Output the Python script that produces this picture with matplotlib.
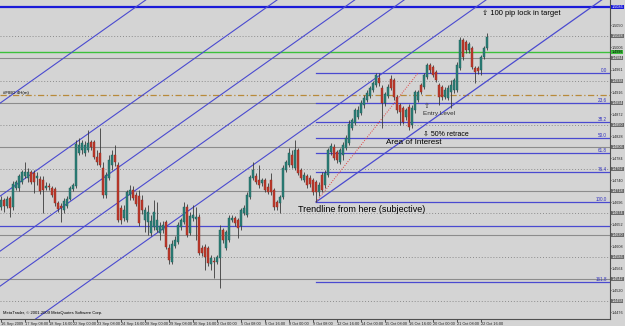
import matplotlib
matplotlib.use("Agg")
import matplotlib.pyplot as plt
import matplotlib.transforms as mtransforms
import numpy as np

plt.rcParams['font.family'] = ['Liberation Sans', 'DejaVu Sans']

# EURUSD H4, 16 Sep 2009 - 23 Oct 2009
opens = [
    1.4686, 1.4700, 1.4688, 1.4704, 1.4686, 1.4724, 1.4724, 1.4736, 1.4748, 1.4744,
    1.4756, 1.4754, 1.4744, 1.4742, 1.4740, 1.4724, 1.4728, 1.4724, 1.4722, 1.4694,
    1.4688, 1.4680, 1.4688, 1.4702, 1.4722, 1.4728, 1.4794, 1.4800, 1.4794, 1.4800,
    1.4816, 1.4816, 1.4786, 1.4794, 1.4764, 1.4710, 1.4744, 1.4770, 1.4790, 1.4770,
    1.4684, 1.4664, 1.4660, 1.4710, 1.4720, 1.4710, 1.4708, 1.4700, 1.4660, 1.4656,
    1.4634, 1.4646, 1.4640, 1.4634, 1.4640, 1.4656, 1.4604, 1.4576, 1.4608, 1.4616,
    1.4646, 1.4656, 1.4686, 1.4634, 1.4664, 1.4662, 1.4666, 1.4604, 1.4606, 1.4604,
    1.4572, 1.4578, 1.4576, 1.4584, 1.4640, 1.4604, 1.4620, 1.4660, 1.4664, 1.4660,
    1.4648, 1.4674, 1.4670, 1.4706, 1.4744, 1.4748, 1.4740, 1.4734, 1.4740, 1.4726,
    1.4740, 1.4720, 1.4696, 1.4694, 1.4706, 1.4760, 1.4770, 1.4790, 1.4764, 1.4800,
    1.4760, 1.4740, 1.4748, 1.4744, 1.4740, 1.4736, 1.4716, 1.4750, 1.4730, 1.4750,
    1.4796, 1.4806, 1.4796, 1.4776, 1.4790, 1.4804, 1.4814, 1.4844, 1.4854, 1.4866,
    1.4874, 1.4890, 1.4900, 1.4908, 1.4920, 1.4930, 1.4944, 1.4924, 1.4894, 1.4908,
    1.4942, 1.4940, 1.4906, 1.4890, 1.4884, 1.4866, 1.4886, 1.4850, 1.4880, 1.4900,
    1.4930, 1.4926, 1.4946, 1.4970, 1.4966, 1.4956, 1.4930, 1.4926, 1.4906, 1.4904,
    1.4916, 1.4920, 1.4920, 1.4964, 1.5020, 1.5016, 1.5000, 1.5004, 1.4964, 1.4964,
    1.4960, 1.4986, 1.5004,
]
highs = [
    1.4708, 1.4704, 1.4708, 1.4708, 1.4738, 1.4740, 1.4752, 1.4760, 1.4776, 1.4764,
    1.4760, 1.4760, 1.4756, 1.4748, 1.4748, 1.4736, 1.4734, 1.4728, 1.4726, 1.4698,
    1.4694, 1.4704, 1.4708, 1.4728, 1.4734, 1.4820, 1.4824, 1.4820, 1.4818, 1.4840,
    1.4820, 1.4820, 1.4800, 1.4844, 1.4776, 1.4756, 1.4790, 1.4800, 1.4810, 1.4776,
    1.4690, 1.4690, 1.4720, 1.4730, 1.4728, 1.4716, 1.4720, 1.4710, 1.4686, 1.4690,
    1.4670, 1.4700, 1.4696, 1.4656, 1.4658, 1.4660, 1.4612, 1.4620, 1.4628, 1.4656,
    1.4664, 1.4696, 1.4692, 1.4676, 1.4690, 1.4686, 1.4672, 1.4610, 1.4612, 1.4608,
    1.4590, 1.4586, 1.4590, 1.4650, 1.4644, 1.4640, 1.4670, 1.4670, 1.4668, 1.4664,
    1.4684, 1.4690, 1.4716, 1.4750, 1.4776, 1.4754, 1.4770, 1.4744, 1.4744, 1.4734,
    1.4754, 1.4724, 1.4700, 1.4710, 1.4770, 1.4780, 1.4804, 1.4800, 1.4820, 1.4804,
    1.4764, 1.4756, 1.4752, 1.4750, 1.4744, 1.4740, 1.4736, 1.4756, 1.4760, 1.4804,
    1.4814, 1.4812, 1.4800, 1.4804, 1.4816, 1.4830, 1.4860, 1.4864, 1.4884, 1.4888,
    1.4900, 1.4910, 1.4920, 1.4928, 1.4938, 1.4954, 1.4954, 1.4930, 1.4916, 1.4932,
    1.4950, 1.4944, 1.4910, 1.4894, 1.4888, 1.4884, 1.4892, 1.4890, 1.4920, 1.4920,
    1.4934, 1.4954, 1.4974, 1.4974, 1.4970, 1.4960, 1.4934, 1.4930, 1.4926, 1.4930,
    1.4940, 1.4944, 1.4976, 1.5026, 1.5024, 1.5020, 1.5016, 1.5008, 1.4968, 1.4968,
    1.4990, 1.5008, 1.5034,
]
lows = [
    1.4680, 1.4676, 1.4684, 1.4666, 1.4680, 1.4720, 1.4718, 1.4732, 1.4744, 1.4736,
    1.4732, 1.4714, 1.4730, 1.4712, 1.4674, 1.4720, 1.4720, 1.4706, 1.4688, 1.4676,
    1.4656, 1.4674, 1.4684, 1.4700, 1.4718, 1.4724, 1.4790, 1.4792, 1.4788, 1.4796,
    1.4800, 1.4782, 1.4770, 1.4766, 1.4704, 1.4704, 1.4740, 1.4760, 1.4768, 1.4656,
    1.4652, 1.4658, 1.4656, 1.4700, 1.4700, 1.4688, 1.4648, 1.4672, 1.4636, 1.4630,
    1.4628, 1.4640, 1.4636, 1.4620, 1.4634, 1.4602, 1.4572, 1.4572, 1.4604, 1.4612,
    1.4640, 1.4652, 1.4626, 1.4630, 1.4658, 1.4620, 1.4590, 1.4588, 1.4560, 1.4568,
    1.4560, 1.4544, 1.4572, 1.4524, 1.4614, 1.4600, 1.4616, 1.4656, 1.4648, 1.4624,
    1.4640, 1.4670, 1.4666, 1.4702, 1.4740, 1.4732, 1.4724, 1.4728, 1.4716, 1.4712,
    1.4710, 1.4680, 1.4680, 1.4674, 1.4702, 1.4756, 1.4766, 1.4764, 1.4760, 1.4750,
    1.4740, 1.4736, 1.4724, 1.4726, 1.4710, 1.4696, 1.4708, 1.4716, 1.4724, 1.4746,
    1.4790, 1.4780, 1.4774, 1.4772, 1.4780, 1.4800, 1.4810, 1.4840, 1.4850, 1.4862,
    1.4870, 1.4884, 1.4896, 1.4904, 1.4916, 1.4926, 1.4928, 1.4844, 1.4888, 1.4904,
    1.4920, 1.4900, 1.4874, 1.4850, 1.4852, 1.4860, 1.4840, 1.4844, 1.4874, 1.4896,
    1.4912, 1.4922, 1.4942, 1.4954, 1.4946, 1.4936, 1.4890, 1.4900, 1.4902, 1.4900,
    1.4884, 1.4914, 1.4916, 1.4960, 1.4980, 1.4994, 1.4994, 1.4962, 1.4934, 1.4952,
    1.4950, 1.4982, 1.5000,
]
closes = [
    1.4700, 1.4688, 1.4702, 1.4684, 1.4732, 1.4736, 1.4748, 1.4756, 1.4756, 1.4756,
    1.4736, 1.4736, 1.4748, 1.4718, 1.4720, 1.4728, 1.4726, 1.4710, 1.4694, 1.4682,
    1.4684, 1.4698, 1.4702, 1.4724, 1.4730, 1.4812, 1.4810, 1.4814, 1.4810, 1.4814,
    1.4806, 1.4786, 1.4776, 1.4770, 1.4710, 1.4750, 1.4780, 1.4790, 1.4776, 1.4660,
    1.4660, 1.4680, 1.4716, 1.4720, 1.4704, 1.4692, 1.4654, 1.4680, 1.4680, 1.4676,
    1.4658, 1.4676, 1.4660, 1.4648, 1.4650, 1.4606, 1.4580, 1.4612, 1.4620, 1.4650,
    1.4660, 1.4686, 1.4630, 1.4668, 1.4670, 1.4666, 1.4594, 1.4594, 1.4586, 1.4574,
    1.4584, 1.4576, 1.4586, 1.4640, 1.4620, 1.4636, 1.4664, 1.4664, 1.4654, 1.4644,
    1.4680, 1.4684, 1.4710, 1.4746, 1.4760, 1.4736, 1.4730, 1.4740, 1.4720, 1.4716,
    1.4716, 1.4686, 1.4686, 1.4706, 1.4764, 1.4776, 1.4794, 1.4770, 1.4800, 1.4754,
    1.4744, 1.4750, 1.4730, 1.4732, 1.4716, 1.4716, 1.4730, 1.4720, 1.4754, 1.4800,
    1.4808, 1.4784, 1.4780, 1.4800, 1.4810, 1.4824, 1.4852, 1.4860, 1.4880, 1.4880,
    1.4894, 1.4904, 1.4914, 1.4924, 1.4934, 1.4950, 1.4934, 1.4894, 1.4912, 1.4926,
    1.4924, 1.4906, 1.4880, 1.4876, 1.4856, 1.4880, 1.4846, 1.4884, 1.4916, 1.4916,
    1.4916, 1.4950, 1.4970, 1.4960, 1.4950, 1.4940, 1.4906, 1.4906, 1.4920, 1.4924,
    1.4930, 1.4940, 1.4970, 1.5020, 1.4986, 1.5000, 1.5012, 1.4966, 1.4956, 1.4958,
    1.4986, 1.5004, 1.5026,
]

time_labels = ["16 Sep 2009", "17 Sep 08:00", "18 Sep 16:00", "22 Sep 00:00",
               "23 Sep 08:00", "24 Sep 16:00", "28 Sep 00:00", "29 Sep 08:00",
               "30 Sep 16:00", "2 Oct 00:00", "5 Oct 08:00", "6 Oct 16:00",
               "8 Oct 00:00", "9 Oct 08:00", "12 Oct 16:00", "14 Oct 00:00",
               "15 Oct 08:00", "16 Oct 16:00", "20 Oct 00:00", "21 Oct 08:00",
               "22 Oct 16:00"]
bars_per_label = 8

grid_solid = [1.4984, 1.4894, 1.4806, 1.4718, 1.4630, 1.4542]
grid_dotted = [1.5028, 1.4938, 1.4850, 1.4762, 1.4674, 1.4586, 1.4498]
scale_ticks = [1.5050, 1.5006, 1.4961, 1.4916, 1.4872, 1.4828, 1.4784,
               1.4740, 1.4696, 1.4652, 1.4608, 1.4564, 1.4520, 1.4476]
target_level = 1.5086
green_level = 1.4996
dashdot_level = 1.4910
blue_level = 1.4648

# fibo anchors (bar, price)
fib_start = (105, 1.4696)
fib_end = (139, 1.4954)
fib_ratios = [0.0, 23.6, 38.2, 50.0, 61.8, 76.4, 100.0, 161.8]

# channel lines, two anchors each (bar, price)
channel_lines = [
    [(0, 1.4895), (100, 1.5320)],
    [(0, 1.4709), (100, 1.5134)],
    [(0, 1.4599), (100, 1.5024)],
    [(0, 1.4529), (100, 1.4954)],
    [(0, 1.4413), (100, 1.4838)],
]
trend_ray = [(105, 1.4696), (150, 1.4887)]

bg = '#d4d4d4'
bull = '#2b7f78'
bear = '#c0392b'
line_blue = '#4a4ad0'

fig = plt.figure(figsize=(6.25, 3.26), dpi=100, facecolor=bg)
ax = fig.add_axes([0, 7 / 326, 610 / 625, 319 / 326], facecolor=bg)

x_min, x_max = -0.33, 203
y_min, y_max = 1.4462, 1.5100
ax.set_xlim(x_min, x_max)
ax.set_ylim(y_min, y_max)

# grid / horizontal lines
for lv in grid_solid:
    ax.axhline(lv, color='#8c8c8c', lw=0.8, zorder=1)
for lv in grid_dotted:
    ax.axhline(lv, color='#8c8c8c', lw=0.7, ls=(0, (1, 2)), zorder=1)
ax.axhline(target_level, color='#1a1ad8', lw=1.6, zorder=2)
ax.axhline(green_level, color='#3cc03c', lw=1.0, zorder=2)
ax.axhline(dashdot_level, color='#b88a3a', lw=0.9, ls=(0, (5, 2, 1, 2)), zorder=2)
ax.axhline(blue_level, color=line_blue, lw=0.9, zorder=2)

# channel lines
for (x0, p0), (x1, p1) in channel_lines:
    ax.axline((x0, p0), (x1, p1), color=line_blue, lw=0.8, zorder=2)
(tx0, tp0), (tx1, tp1) = trend_ray
slope = (tp1 - tp0) / (tx1 - tx0)
ax.plot([tx0, x_max], [tp0, tp0 + slope * (x_max - tx0)], color=line_blue, lw=0.9, zorder=2)

# fibonacci
hi_p = fib_end[1]
lo_p = fib_start[1]
for r in fib_ratios:
    lv = hi_p - r / 100 * (hi_p - lo_p)
    ax.plot([fib_start[0], x_max], [lv, lv], color=line_blue, lw=0.9, zorder=2)
    ax.text(x_max - 1, lv, f"{r:.1f}", color='#3030c0', fontsize=3.3,
            ha='right', va='bottom', zorder=5)
ax.plot([fib_start[0], fib_end[0]], [fib_start[1], fib_end[1]],
        color='#e04040', lw=0.7, ls=(0, (1, 1.5)), zorder=2)

# candles
o = np.array(opens)
h = np.array(highs)
l = np.array(lows)
c = np.array(closes)
xs = np.arange(len(o))
up = c >= o
ax.vlines(xs, l, h, color='#3a3a3a', lw=0.6, zorder=3)
ax.bar(xs[up], np.maximum(c[up] - o[up], 0.00004), bottom=o[up], width=0.62,
       color=bull, edgecolor='#1d5a55', lw=0.3, zorder=4)
ax.bar(xs[~up], o[~up] - c[~up], bottom=c[~up], width=0.62,
       color=bear, edgecolor='#8a2a20', lw=0.3, zorder=4)

# annotations
ax.text(160.3, 1.5074, "\u21e7 100 pip lock in target", fontsize=5.4, va='center', ha='left', zorder=6)
ax.text(141, 1.4888, "\u21e7", fontsize=5, color='#404040', va='center', ha='left', zorder=6)
ax.text(140.7, 1.4872, "Entry Level", fontsize=4.6, color='#303030', va='center', ha='left', zorder=6)
ax.text(140.7, 1.4832, "\u21e9 50% retrace", fontsize=5.0, va='center', ha='left', zorder=6)
ax.text(128.3, 1.4814, "Area of Interest", fontsize=5.9, va='center', ha='left', zorder=6)
ax.text(99, 1.4680, "Trendline from here (subjective)", fontsize=6.5, va='center', ha='left', zorder=6)
ax.text(0.6, 1.4914, "#FIBO 4H(m)", fontsize=3.2, va='center', ha='left', zorder=6)
ax.text(0.005, 0.012, "MetaTrader, \u00a9 2001-2009 MetaQuotes Software Corp.",
        transform=ax.transAxes, fontsize=3.0, va='bottom', ha='left', zorder=6)

# axes styling
for s in ['top', 'left']:
    ax.spines[s].set_visible(False)
ax.spines['right'].set_color('#505050')
ax.spines['bottom'].set_color('#505050')
ax.spines['right'].set_linewidth(0.8)
ax.spines['bottom'].set_linewidth(0.8)

ax.set_xticks(np.arange(len(time_labels)) * bars_per_label)
ax.set_xticklabels(time_labels, fontsize=2.8, ha='left')
ax.tick_params(axis='x', length=2, width=0.5, pad=0.5, colors='#202020')

ax.yaxis.tick_right()
ax.set_yticks(scale_ticks)
ax.set_yticklabels([f"{v:.4f}" for v in scale_ticks], fontsize=2.7)
ax.tick_params(axis='y', length=1, width=0.5, pad=0.4, colors='#202020')

# price boxes on the right scale
trans = mtransforms.blended_transform_factory(ax.transAxes, ax.transData)


def price_box(level, fc, tc):
    ax.text(1.0025, level, f"{level:.4f}", transform=trans, fontsize=2.7,
            color=tc, va='center', ha='left',
            bbox=dict(boxstyle='square,pad=0.1', fc=fc, ec='none'), clip_on=False)


price_box(target_level, '#1a1ad8', 'white')
price_box(green_level, '#3cc03c', 'black')
for lv in grid_solid + grid_dotted:
    price_box(lv, '#6a6a6a', 'white')

fig.savefig("out.png", dpi=100, facecolor=bg)
